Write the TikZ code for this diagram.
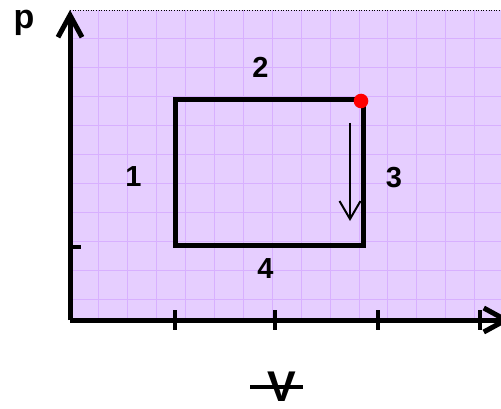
\documentclass[tikz,border=0pt]{standalone}
\usepackage{fontspec}
\setmainfont{Liberation Sans}
\usetikzlibrary{arrows.meta}
\definecolor{bgpurple}{RGB}{230,206,255}
\definecolor{gridpurple}{RGB}{216,176,255}
\tikzset{
  axis/.style={line width=5pt, line cap=butt},
  tickmark/.style={line width=4.5pt},
  cycleline/.style={line width=5pt, line join=miter},
  gridline/.style={gridpurple, line width=1pt},
  lbl/.style={font=\fontsize{29}{29}\selectfont\bfseries, inner sep=0pt, anchor=base},
  barb/.tip={Straight Barb[length=22pt, width=24pt]},
}
\begin{document}
\begin{tikzpicture}[x=1pt,y=-1pt]
\useasboundingbox (0,0) rectangle (501,409);
\clip (0,0) rectangle (501,409);
% background
\fill[bgpurple] (70,10) rectangle (501,320);
\foreach \i in {1,...,14} \draw[gridline] ({70+28.9*\i},10) -- ({70+28.9*\i},320);
\foreach \j in {1,...,10} \draw[gridline] (70,{10+28.9*\j}) -- (501,{10+28.9*\j});
\draw[dotted, line width=0.6pt] (70,10) -- (501,10);
% axes
\coordinate (O) at (70,320);
\coordinate (ytop) at (70,10);
\coordinate (xend) at (511,320);
\draw[axis, -{barb}] (O) -- (ytop);
\draw[axis, -{barb}] (O) -- (xend);
% ticks
\foreach \x in {175,275,378,480} \draw[tickmark] (\x,310) -- (\x,330);
\draw[tickmark] (70,247) -- (81,247);
% cycle
\coordinate (A) at (175,100);
\coordinate (B) at (363,100);
\coordinate (C) at (363,245);
\coordinate (D) at (175,245);
\draw[cycleline] (A) -- (B) -- (C) -- (D) -- cycle;
\fill[red] (361,101) circle (7.3pt);
% direction arrow
\coordinate (s) at (350,123);
\coordinate (e) at (350,221);
\draw[line width=2pt, -{Straight Barb[length=18pt, width=21pt]}] (s) -- (e);
% labels
\node[lbl, font=\fontsize{34}{34}\selectfont\bfseries] (p) at (24,29) {p};
\node[lbl] (l1) at (133.5,187) {1};
\node[lbl] (l2) at (260.5,78) {2};
\node[lbl] (l3) at (394,188) {3};
\node[lbl] (l4) at (265.5,278) {4};
\node[lbl, font=\fontsize{43}{43}\selectfont\bfseries] (V) at (282,401) {V};
\draw[line width=4pt] (250,387) -- (303,387);
\end{tikzpicture}
\end{document}
